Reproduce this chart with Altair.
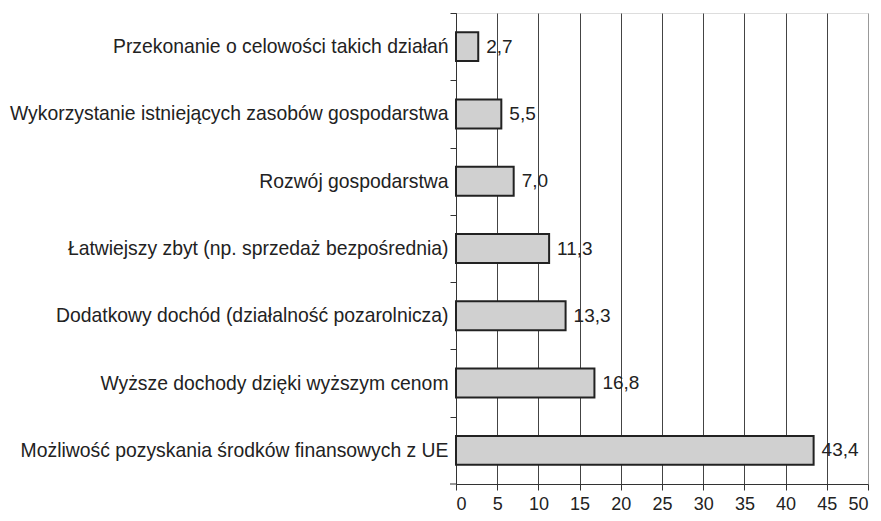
import altair as alt
import pandas as pd

categories = [
    "Przekonanie o celowości takich działań",
    "Wykorzystanie istniejących zasobów gospodarstwa",
    "Rozwój gospodarstwa",
    "Łatwiejszy zbyt (np. sprzedaż bezpośrednia)",
    "Dodatkowy dochód (działalność pozarolnicza)",
    "Wyższe dochody dzięki wyższym cenom",
    "Możliwość pozyskania środków finansowych z UE",
]
values = [2.7, 5.5, 7.0, 11.3, 13.3, 16.8, 43.4]
labels = ["2,7", "5,5", "7,0", "11,3", "13,3", "16,8", "43,4"]
x_ticks = [0, 5, 10, 15, 20, 25, 30, 35, 40, 45, 50]

df = pd.DataFrame({"cat": categories, "val": values, "lab": labels})

FONT = "Liberation Sans"
H = 471
STEP = H / len(categories)

y = alt.Y(
    "cat:N",
    sort=categories,
    title=None,
    scale=alt.Scale(paddingInner=0.57, paddingOuter=0.285),
    axis=alt.Axis(
        tickOffset=-STEP / 2,
        labelOffset=STEP / 2,
        tickSize=6,
        tickColor="#333",
        domainColor="#333",
        labelFont=FONT,
        labelFontSize=19.35,
        labelColor="#222",
        labelPadding=2,
        labelLimit=600,
        grid=False,
    ),
)

x = alt.X(
    "val:Q",
    title=None,
    scale=alt.Scale(domain=[0, 50], nice=False),
    axis=alt.Axis(
        values=x_ticks,
        tickSize=6,
        tickColor="#333",
        domainColor="#333",
        labelFont=FONT,
        labelFontSize=18,
        labelColor="#222",
        labelPadding=5,
        grid=True,
        gridColor={"condition": {"test": "datum.value === 50", "value": "#999"}, "value": "#444"},
        gridWidth=1,
        gridOpacity=1,
    ),
)

bars = alt.Chart(df).mark_bar(
    fill="#d0d0d0", stroke="#222", strokeWidth=2
).encode(x=x, y=y)

text = alt.Chart(df).mark_text(
    align="left", baseline="middle", dx=8, font=FONT, fontSize=19, color="#222"
).encode(x="val:Q", y=alt.Y("cat:N", sort=categories), text="lab:N")

# small tick at the bottom end of the category axis
corner = alt.Chart(df.head(1)).mark_rule(color="#333", strokeWidth=1).encode(
    x=alt.value(-6), x2=alt.value(0), y=alt.value(H)
)

chart = (
    alt.layer(bars, text, corner)
    .properties(
        width=412,
        height=H,
        autosize=alt.AutoSizeParams(type="none"),
        padding={"left": 448, "top": 5, "right": 5, "bottom": 29},
    )
    .configure_view(stroke="#999", strokeWidth=1.5)
    .configure(background="white")
)

chart.save("out.html", embed_options={"renderer": "svg", "actions": False})
